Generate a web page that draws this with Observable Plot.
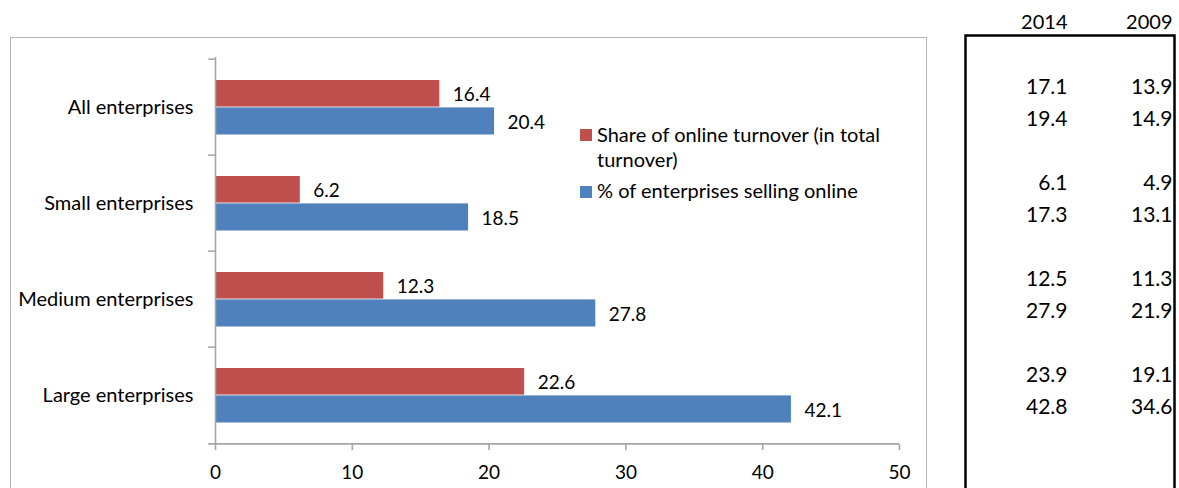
<!DOCTYPE html>
<html><head><meta charset="utf-8">
<script src="https://cdn.jsdelivr.net/npm/d3@7"></script>
<script src="https://cdn.jsdelivr.net/npm/@observablehq/plot@0.6"></script>
<style>
html,body{margin:0;padding:0;background:#fff;}
#wrap{position:relative;width:1179px;height:488px;overflow:hidden;font-family:Lato,"Open Sans",sans-serif;color:#000;background:#fff;}
#frame{position:absolute;left:10px;top:37px;width:917px;height:480px;border:1.5px solid #b3b3b3;box-sizing:border-box;}
#chart{position:absolute;left:0;top:0;}
#table{position:absolute;left:940px;top:0;}
.leg{position:absolute;font-size:20px;line-height:25px;white-space:nowrap;}
.sw{position:absolute;width:12px;height:12px;}
</style>
</head><body>
<div id="wrap">
  <div id="frame"></div>
  <div id="chart"></div>
  <div id="table"></div>
  <div class="sw" style="left:580px;top:129px;background:#C0504D"></div>
  <div class="leg" style="left:597px;top:122px">Share of online turnover (in total<br>turnover)</div>
  <div class="sw" style="left:580px;top:186px;background:#4F81BD"></div>
  <div class="leg" style="left:597px;top:178px">% of enterprises selling online</div>
</div>
<script>
const categories = ["All enterprises", "Small enterprises", "Medium enterprises", "Large enterprises"];
const shareTurnover = [16.4, 6.2, 12.3, 22.6];
const sellingOnline = [20.4, 18.5, 27.8, 42.1];
const xTicks = [0, 10, 20, 30, 40, 50];
const years = ["2014", "2009"];
const share2014 = [17.1, 6.1, 12.5, 23.9];
const selling2014 = [19.4, 17.3, 27.9, 42.8];
const share2009 = [13.9, 4.9, 11.3, 19.1];
const selling2009 = [14.9, 13.1, 21.9, 34.6];

const RED = "#C0504D", BLUE = "#4F81BD", AXIS = "#a6a6a6";
const bars = categories.map((c, i) => ({cat: c, share: shareTurnover[i], sell: sellingOnline[i]}));
const half = 387 / 4 / 2;

const chart = Plot.plot({
  width: 930, height: 488,
  marginLeft: 215, marginRight: 31, marginTop: 57, marginBottom: 44,
  style: {fontFamily: "Lato, 'Open Sans', sans-serif", fontSize: "18px", color: "#000", background: "transparent", overflow: "visible"},
  x: {domain: [0, 50], label: null},
  y: {type: "band", domain: categories, padding: 0, label: null},
  marks: [
    Plot.barX(bars, {y: "cat", x: "share", fill: RED, insetTop: 21, insetBottom: 48.4}),
    Plot.barX(bars, {y: "cat", x: "sell", fill: BLUE, insetTop: 48.4, insetBottom: 20.5}),
    Plot.text(bars, {y: "cat", x: "share", text: d => d.share.toFixed(1), textAnchor: "start", dx: 13, dy: -13, fill: "#000", fontSize: 19}),
    Plot.text(bars, {y: "cat", x: "sell", text: d => d.sell.toFixed(1), textAnchor: "start", dx: 13, dy: 15, fill: "#000", fontSize: 19}),
    Plot.ruleX([0], {stroke: AXIS, strokeWidth: 1.6}),
    Plot.ruleY(categories, {y: d => d, dy: -half, x1: -0.5, x2: 0, stroke: AXIS, strokeWidth: 1.6}),
    Plot.ruleY([categories[categories.length - 1]], {y: d => d, dy: half, x1: -0.5, x2: 50, stroke: AXIS, strokeWidth: 1.6}),
    Plot.axisX(xTicks, {tickSize: 6, tickPadding: 15, stroke: AXIS, strokeWidth: 1.6, fill: "#000", fontSize: 19, label: null}),
    Plot.axisY({tickSize: 0, tickPadding: 22, fill: "#000", fontSize: 20, label: null})
  ]
});
document.getElementById("chart").appendChild(chart);

const rows = [];
categories.forEach((c, i) => {
  rows.push({cat: c, year: "2014", share: share2014[i], sell: selling2014[i]});
  rows.push({cat: c, year: "2009", share: share2009[i], sell: selling2009[i]});
});

const table = Plot.plot({
  width: 239, height: 500,
  marginLeft: 25, marginRight: 5, marginTop: 35, marginBottom: 0,
  style: {fontFamily: "Lato, 'Open Sans', sans-serif", fontSize: "20px", color: "#000", background: "transparent", overflow: "visible"},
  x: {type: "point", domain: years, range: [127, 232], padding: 0, axis: null},
  y: {type: "band", domain: categories, range: [57, 444], padding: 0, axis: null},
  marks: [
    Plot.frame({stroke: "#000", strokeWidth: 2.5}),
    Plot.text(years, {x: d => d, text: d => d, frameAnchor: "top", lineAnchor: "middle", dy: -13, textAnchor: "end", fill: "#000", fontSize: 20}),
    Plot.text(rows, {x: "year", y: "cat", text: d => d.share.toFixed(1), dy: -20, textAnchor: "end", fill: "#000", fontSize: 21}),
    Plot.text(rows, {x: "year", y: "cat", text: d => d.sell.toFixed(1), dy: 11.5, textAnchor: "end", fill: "#000", fontSize: 21})
  ]
});
document.getElementById("table").appendChild(table);
</script>
</body></html>
